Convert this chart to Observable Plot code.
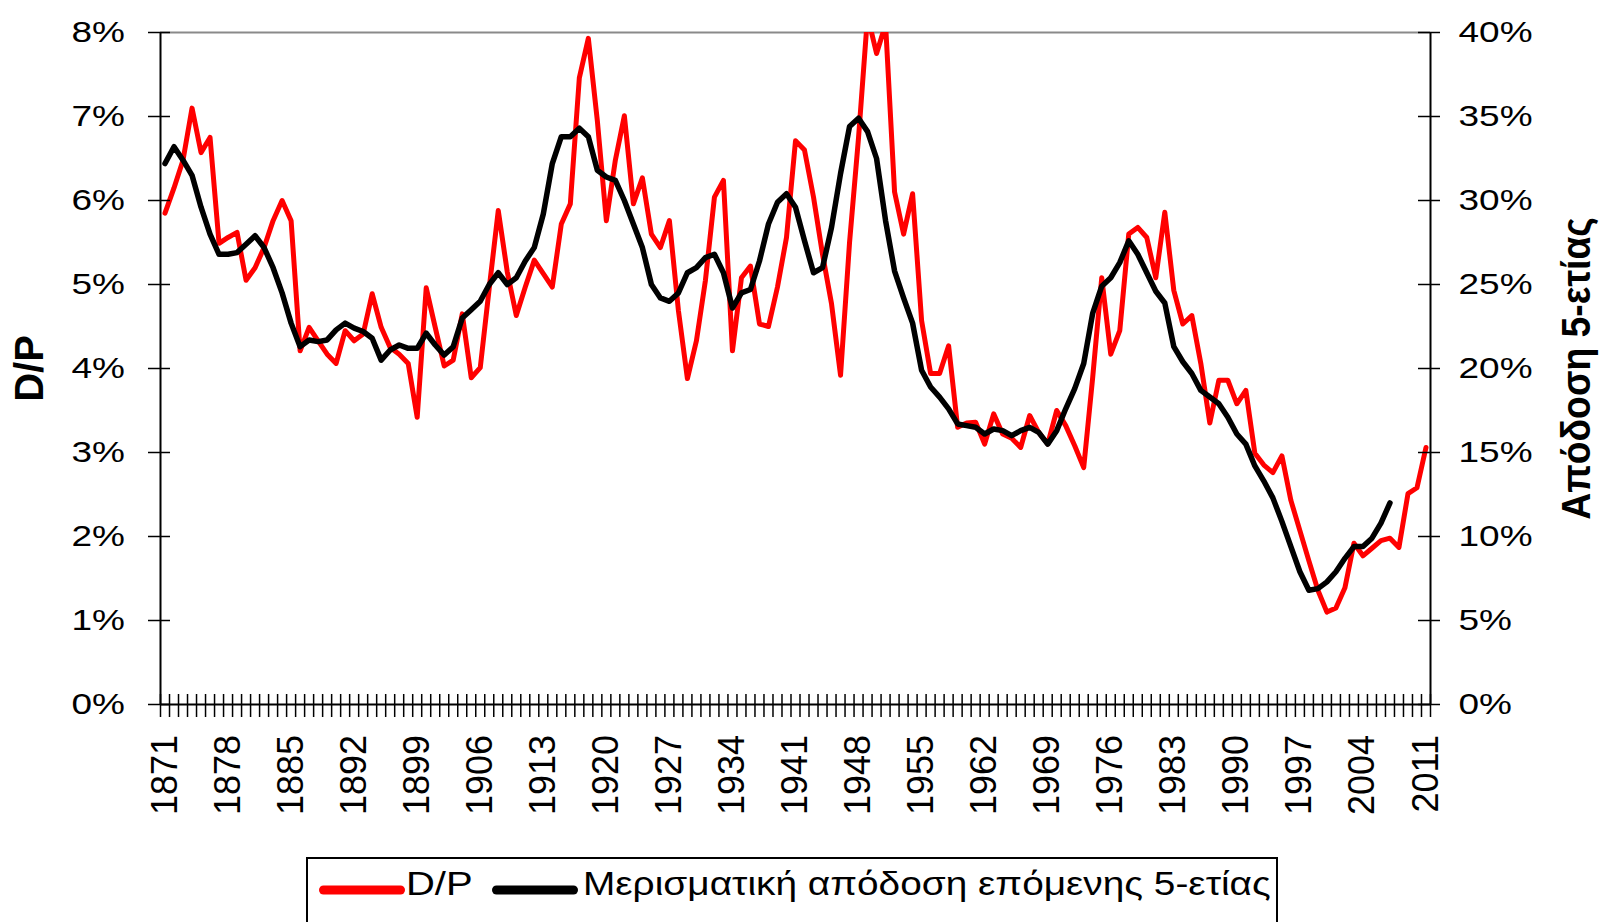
<!DOCTYPE html>
<html>
<head>
<meta charset="utf-8">
<script src="https://cdn.jsdelivr.net/npm/d3@7"></script>
<script src="https://cdn.jsdelivr.net/npm/@observablehq/plot@0.6"></script>
<style>
html, body { margin: 0; padding: 0; background: #fff; overflow: hidden; width: 1600px; height: 922px; }
#wrap { position: relative; width: 1600px; height: 922px; }
</style>
</head>
<body>
<div id="wrap"></div>
<script>
// ---- Data ----
const firstYear = 1871;
const lastYear = 2011;
const years = d3.range(firstYear, lastYear + 1);

// D/P, percent, 1871..2011
const dp = [
  5.85, 6.15, 6.48, 7.10, 6.57, 6.75, 5.49, 5.56, 5.62, 5.05,
  5.20, 5.44, 5.76, 6.00, 5.76, 4.21, 4.49, 4.33, 4.17, 4.06,
  4.45, 4.33, 4.41, 4.89, 4.49, 4.25, 4.17, 4.06, 3.42, 4.96,
  4.49, 4.03, 4.10, 4.65, 3.89, 4.01, 4.96, 5.88, 5.15, 4.63,
  4.97, 5.29, 5.13, 4.97, 5.72, 5.96, 7.46, 7.93, 6.95, 5.76,
  6.48, 7.01, 5.96, 6.27, 5.60, 5.44, 5.76, 4.69, 3.88, 4.33,
  5.05, 6.04, 6.24, 4.21, 5.08, 5.22, 4.53, 4.50, 4.97, 5.56,
  6.71, 6.60, 6.04, 5.36, 4.77, 3.92, 5.50, 6.75, 8.20, 7.75,
  8.10, 6.10, 5.60, 6.08, 4.57, 3.94, 3.94, 4.27, 3.30, 3.35,
  3.36, 3.10, 3.46, 3.22, 3.17, 3.06, 3.44, 3.24, 3.10, 3.50,
  3.32, 3.08, 2.82, 3.90, 5.08, 4.17, 4.45, 5.60, 5.68, 5.56,
  5.08, 5.86, 4.93, 4.53, 4.63, 4.06, 3.35, 3.86, 3.86, 3.58,
  3.74, 2.99, 2.85, 2.76, 2.96, 2.43, 2.07, 1.71, 1.36, 1.10,
  1.15, 1.39, 1.92, 1.77, 1.86, 1.95, 1.98, 1.87, 2.51, 2.58,
  3.06
];

// Dividend yield of the next 5 years, percent (right axis), 1871..2007
const ret5 = [
  32.2, 33.2, 32.4, 31.5, 29.6, 28.0, 26.8, 26.8, 26.9, 27.4,
  27.9, 27.2, 26.0, 24.5, 22.7, 21.3, 21.7, 21.6, 21.7, 22.3,
  22.7, 22.4, 22.2, 21.8, 20.5, 21.1, 21.4, 21.2, 21.2, 22.1,
  21.4, 20.8, 21.3, 23.0, 23.5, 24.0, 25.0, 25.7, 25.0, 25.4,
  26.4, 27.2, 29.2, 32.2, 33.8, 33.8, 34.3, 33.8, 31.8, 31.4,
  31.2, 30.0, 28.6, 27.2, 25.0, 24.2, 24.0, 24.5, 25.7, 26.0,
  26.6, 26.8, 25.7, 23.6, 24.5, 24.7, 26.4, 28.6, 29.9, 30.4,
  29.6, 27.6, 25.7, 26.0, 28.4, 31.6, 34.4, 34.9, 34.1, 32.5,
  28.8, 25.8, 24.2, 22.7, 19.9, 18.9, 18.3, 17.6, 16.7, 16.6,
  16.5, 16.1, 16.4, 16.3, 16.0, 16.3, 16.5, 16.2, 15.5, 16.3,
  17.6, 18.8, 20.3, 23.3, 24.9, 25.4, 26.3, 27.6, 26.8, 25.7,
  24.6, 23.9, 21.3, 20.4, 19.7, 18.7, 18.3, 17.9, 17.1, 16.1,
  15.5, 14.2, 13.3, 12.3, 10.9, 9.4, 7.9, 6.8, 6.9, 7.3,
  7.9, 8.7, 9.4, 9.4, 9.9, 10.8, 12.0
];

const xLabelYears = [1871, 1878, 1885, 1892, 1899, 1906, 1913, 1920, 1927, 1934, 1941, 1948, 1955, 1962, 1969, 1976, 1983, 1990, 1997, 2004, 2011];
const leftTickPct = [0, 1, 2, 3, 4, 5, 6, 7, 8];
const rightTickLabels = ["0%", "5%", "10%", "15%", "20%", "25%", "30%", "35%", "40%"];
const seriesNames = ["D/P", "Μερισματική απόδοση επόμενης 5-ετίας"];
const seriesColors = ["#ff0000", "#000000"];
const axisTitles = ["D/P", "Απόδοση 5-ετίας"];
const rightToLeftRatio = 5; // right axis = 5 x left axis

// ---- Build tables ----
const dpData = years.map((year, i) => ({year, v: dp[i] / 100}));
const retData = ret5.map((r, i) => ({year: years[i], v: r / 100 / rightToLeftRatio}));
const yTicks = leftTickPct.map(d => d / 100);
const xDomain = [firstYear - 0.5, lastYear + 0.5];
const boundaries = d3.range(xDomain[0], xDomain[1] + 0.001, 1);

const W = 1600, H = 850;
const mL = 160, mR = 170, mT = 32, mB = 146;
const frameW = W - mL - mR, frameH = H - mT - mB;
const font = "'Liberation Sans', Arial, Helvetica, sans-serif";

const chart = Plot.plot({
  width: W, height: H,
  marginLeft: mL, marginRight: mR, marginTop: mT, marginBottom: mB,
  style: {fontFamily: font, background: "#fff", color: "#000", overflow: "visible"},
  x: {type: "linear", domain: xDomain, axis: null},
  y: {type: "linear", domain: [0, 0.08], axis: null},
  marks: [
    Plot.ruleY([0.08], {stroke: "#8a8a8a", strokeWidth: 2}),
    Plot.line(dpData, {x: "year", y: "v", stroke: seriesColors[0], strokeWidth: 5, strokeLinejoin: "round", clip: true}),
    Plot.line(retData, {x: "year", y: "v", stroke: seriesColors[1], strokeWidth: 5.5, strokeLinejoin: "round", clip: true}),
    Plot.ruleX([xDomain[0]], {stroke: "#000", strokeWidth: 2}),
    Plot.ruleX([xDomain[1]], {stroke: "#000", strokeWidth: 2}),
    Plot.ruleY([0], {stroke: "#000", strokeWidth: 2}),
    // crossing tick marks
    Plot.tickY(yTicks, {y: d => d, stroke: "#000", strokeWidth: 1.5, insetLeft: -12, insetRight: frameW - 10}),
    Plot.tickY(yTicks, {y: d => d, stroke: "#000", strokeWidth: 1.5, insetLeft: frameW - 12, insetRight: -10}),
    Plot.tickX(boundaries, {x: d => d, stroke: "#000", strokeWidth: 1.5, insetTop: frameH - 10, insetBottom: -13}),
    // tick labels
    Plot.axisY(yTicks, {anchor: "left", tickSize: 0, tickPadding: 35.5, fontSize: 37,
      tickFormat: d => leftTickPct[yTicks.indexOf(d)] + "%", label: null}),
    Plot.axisY(yTicks, {anchor: "right", tickSize: 0, tickPadding: 28, fontSize: 37,
      tickFormat: d => rightTickLabels[yTicks.indexOf(d)], label: null}),
    Plot.axisX(xLabelYears, {anchor: "bottom", tickSize: 0, tickPadding: 30.5, tickRotate: -90, fontSize: 36,
      tickFormat: d => String(d), label: null}),
    // axis titles
    Plot.text([axisTitles[0]], {frameAnchor: "left", text: d => d, rotate: -90, textAnchor: "middle", dx: -130, fontSize: 40, fontWeight: "bold"}),
    Plot.text([axisTitles[1]], {frameAnchor: "right", text: d => d, rotate: -90, textAnchor: "middle", dx: 146, fontSize: 41, fontWeight: "bold"})
  ]
});

const wrap = document.getElementById("wrap");
chart.style.position = "absolute";
chart.style.left = "0px";
chart.style.top = "0px";
wrap.appendChild(chart);

// vertically squash the horizontal tick labels (as in the reference)
chart.querySelectorAll('g[aria-label="y-axis tick label"] text').forEach(t => {
  const b = t.getBBox();
  const cy = b.y + b.height / 2;
  const prev = t.getAttribute("transform") || "";
  t.setAttribute("transform", `${prev} translate(0,${cy}) scale(1,0.8) translate(0,${-cy})`);
});
// right title: slightly condensed along its length
chart.querySelectorAll('g[aria-label="text"] text').forEach(t => {
  if (t.textContent === axisTitles[1]) {
    const prev = t.getAttribute("transform") || "";
    t.setAttribute("transform", `${prev} scale(0.91,1)`);
  }
});

// ---- Legend (below the chart) ----
const leg = d3.select(wrap).append("svg")
  .attr("width", 972).attr("height", 65)
  .style("position", "absolute").style("left", "306px").style("top", "857px")
  .style("font-family", font);
leg.append("rect").attr("x", 1).attr("y", 1).attr("width", 970).attr("height", 120)
  .attr("fill", "#fff").attr("stroke", "#000").attr("stroke-width", 2);
const items = [
  {name: seriesNames[0], color: seriesColors[0], x1: 17.5, x2: 94.5, tx: 100, len: null},
  {name: seriesNames[1], color: seriesColors[1], x1: 190.5, x2: 267.5, tx: 277, len: 688}
];
items.forEach(it => {
  leg.append("line").attr("x1", it.x1).attr("x2", it.x2).attr("y1", 33).attr("y2", 33)
    .attr("stroke", it.color).attr("stroke-width", 9).attr("stroke-linecap", "round");
  const t = leg.append("text").attr("font-size", 40).attr("fill", "#000").text(it.name);
  const natural = t.node().getComputedTextLength();
  const sx = it.len ? it.len / natural : 1;
  t.attr("transform", `translate(${it.tx},38) scale(${sx},0.82)`);
});
</script>
</body>
</html>
